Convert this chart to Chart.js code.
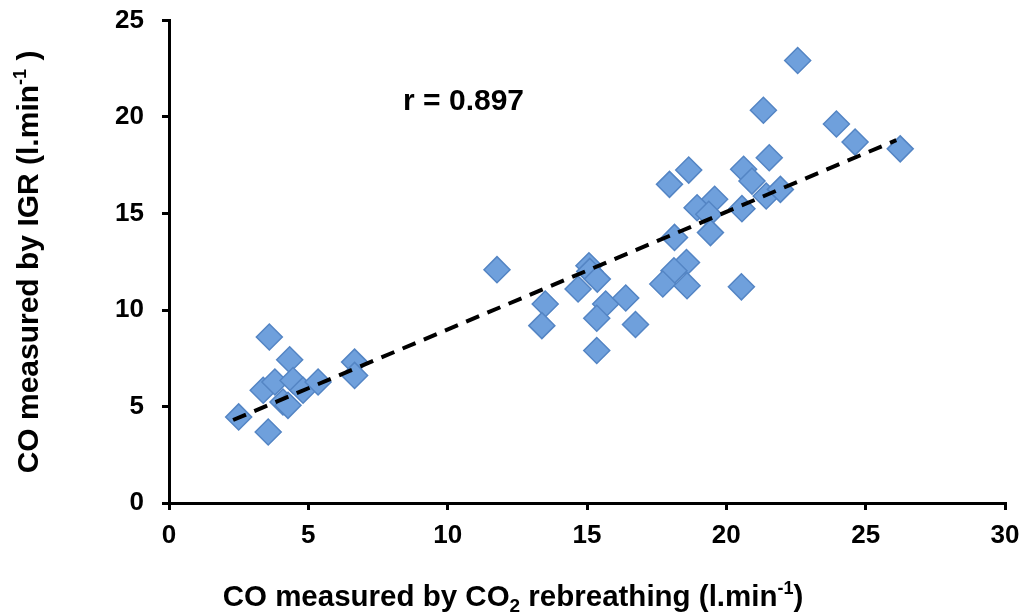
<!DOCTYPE html>
<html>
<head>
<meta charset="utf-8">
<script src="https://cdn.jsdelivr.net/npm/chart.js@4/dist/chart.umd.min.js"></script>
<style>
  html, body { margin: 0; padding: 0; background: #fff; }
  #wrap { width: 1029px; height: 615px; }
</style>
</head>
<body>
<div id="wrap"><canvas id="myChart" width="1029" height="615"></canvas></div>
<script>
// CO2 rebreathing (x) vs IGR (y), l.min-1
const xValues = [
    3.6, 4.33, 2.5, 3.56, 3.38, 3.8, 4.45, 4.09, 4.27, 4.81, 5.35, 6.66, 6.66,
    11.77, 15.07, 15.1, 15.37, 14.68, 13.5, 13.38, 15.67, 16.39, 15.35, 16.74, 15.35,
    22.56, 21.33, 23.95, 24.62, 26.24, 18.65, 17.96, 21.54, 20.62, 20.92, 21.43, 21.94,
    19.58, 18.95, 19.37, 20.56, 19.43, 18.14, 18.57, 18.12, 17.72, 18.59, 20.54
];
const yValues = [
    8.6, 7.42, 4.46, 3.68, 5.84, 6.27, 6.35, 5.23, 5.06, 5.84, 6.27, 7.3, 6.61,
    12.09, 12.29, 12.0, 11.6, 11.09, 10.31, 9.19, 10.31, 10.62, 9.57, 9.25, 7.9,
    22.93, 20.35, 19.64, 18.7, 18.35, 17.25, 16.51, 17.89, 17.29, 16.68, 15.91, 16.25,
    15.74, 15.3, 14.96, 15.25, 14.01, 13.76, 12.46, 12.03, 11.35, 11.26, 11.2
];
// regression line end points
const trendX = [2.3, 26.1];
const trendY = [4.3, 18.8];
const xTicks = [0, 5, 10, 15, 20, 25, 30];
const yTicks = [0, 5, 10, 15, 20, 25];
const rLabel = 'r = 0.897';

const FONT = '"Liberation Sans", Arial, sans-serif';

// axis titles and r label, drawn with real sub/superscripts
const textPlugin = {
    id: 'textPlugin',
    afterDraw(chart) {
        const ctx = chart.ctx;
        const xs = chart.scales.x, ys = chart.scales.y;
        ctx.save();
        ctx.fillStyle = '#000';

        // r value
        ctx.font = 'bold 30px ' + FONT;
        ctx.textAlign = 'center';
        ctx.textBaseline = 'middle';
        ctx.fillText(rLabel, xs.getPixelForValue(10.57), ys.getPixelForValue(20.8));

        function drawParts(parts, startX, baseY) {
            let x = startX;
            parts.forEach(p => {
                ctx.font = 'bold ' + p.size + 'px ' + FONT;
                ctx.fillText(p.t, x, baseY + (p.dy || 0));
                x += ctx.measureText(p.t).width;
            });
        }
        function partsWidth(parts) {
            let w = 0;
            parts.forEach(p => {
                ctx.font = 'bold ' + p.size + 'px ' + FONT;
                w += ctx.measureText(p.t).width;
            });
            return w;
        }
        ctx.textAlign = 'left';
        ctx.textBaseline = 'alphabetic';

        // x title
        const xParts = [
            { t: 'CO measured by CO', size: 29.5 },
            { t: '2', size: 19, dy: 6 },
            { t: ' rebreathing (l.min', size: 29.5 },
            { t: '-1', size: 18, dy: -12 },
            { t: ')', size: 29.5 }
        ];
        const xw = partsWidth(xParts);
        drawParts(xParts, 513 - xw / 2, 606);

        // y title
        const yParts = [
            { t: 'CO measured by IGR (l.min', size: 30 },
            { t: '-1', size: 18, dy: -12 },
            { t: ' )', size: 30 }
        ];
        const yw = partsWidth(yParts);
        ctx.translate(38, 262);
        ctx.rotate(-Math.PI / 2);
        drawParts(yParts, -yw / 2, 0);
        ctx.restore();
    }
};

document.addEventListener('DOMContentLoaded', function() {
    const ctx = document.getElementById('myChart').getContext('2d');
    const points = xValues.map((x, i) => ({ x: x, y: yValues[i] }));
    const trend = trendX.map((x, i) => ({ x: x, y: trendY[i] }));

    const axisCommon = {
        type: 'linear',
        border: { display: true, color: '#000', width: 3 },
        grid: {
            display: true,
            drawOnChartArea: false,
            drawTicks: true,
            tickLength: 7,
            color: '#000',
            lineWidth: 3
        }
    };

    new Chart(ctx, {
        type: 'scatter',
        data: {
            datasets: [{
                type: 'line',
                data: trend,
                borderColor: '#000',
                borderWidth: 4,
                borderDash: [14, 9],
                pointRadius: 0,
                fill: false,
                order: 0
            }, {
                data: points,
                pointStyle: 'rectRot',
                pointRadius: 13,
                pointHoverRadius: 13,
                backgroundColor: '#6fa0dc',
                borderColor: '#5485c4',
                borderWidth: 1.5,
                order: 1
            }]
        },
        options: {
            responsive: false,
            animation: false,
            layout: { padding: { top: 20.5, right: 24, left: 0, bottom: 0 } },
            plugins: {
                legend: { display: false },
                tooltip: { enabled: false }
            },
            scales: {
                x: Object.assign({}, axisCommon, {
                    position: 'bottom',
                    min: 0,
                    max: 30,
                    afterBuildTicks: s => { s.ticks = xTicks.map(v => ({ value: v })); },
                    afterFit: s => { s.height = 112; s.paddingLeft = 0; s.paddingRight = 0; },
                    ticks: {
                        color: '#000',
                        padding: 10,
                        font: { family: FONT, size: 26, weight: 'bold' }
                    }
                }),
                y: Object.assign({}, axisCommon, {
                    position: 'left',
                    min: 0,
                    max: 25,
                    afterBuildTicks: s => { s.ticks = yTicks.map(v => ({ value: v })); },
                    afterFit: s => { s.width = 169; s.paddingTop = 0; s.paddingBottom = 0; },
                    ticks: {
                        color: '#000',
                        padding: 18,
                        font: { family: FONT, size: 26, weight: 'bold' }
                    }
                })
            }
        },
        plugins: [textPlugin]
    });
});
</script>
</body>
</html>
